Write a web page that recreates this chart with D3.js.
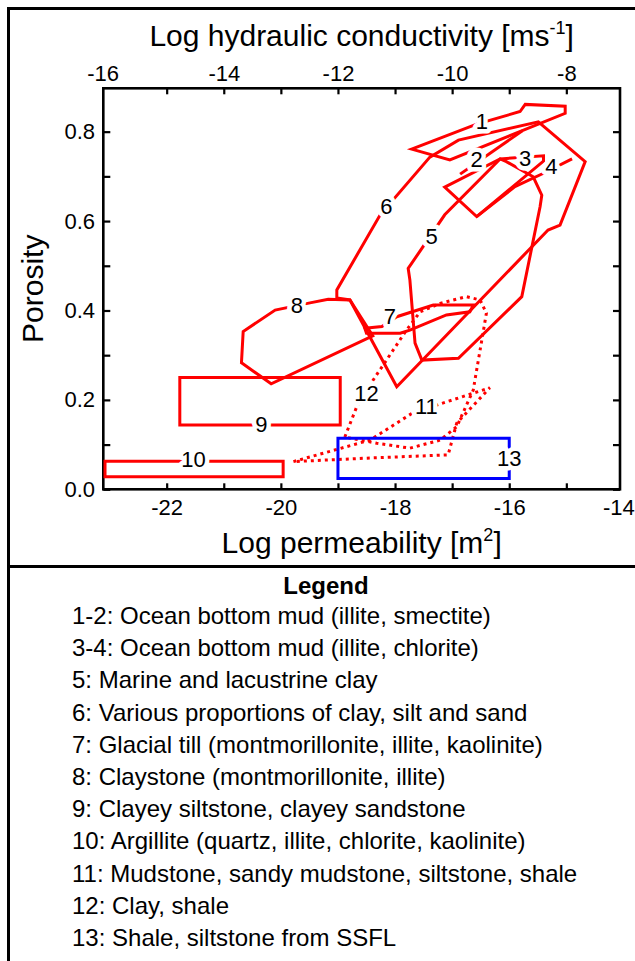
<!DOCTYPE html>
<html>
<head>
<meta charset="utf-8">
<script src="https://cdn.jsdelivr.net/npm/d3@7"></script>
<style>
  html, body { margin: 0; padding: 0; background: #fff; }
  svg { display: block; font-family: "Liberation Sans", Arial, sans-serif; }
</style>
</head>
<body>
<div id="chart"></div>
<script>
// ---------------- DATA ----------------
const xTickValues = [-22, -21, -20, -19, -18, -17, -16, -15];
const xTickLabels = [-22, -20, -18, -16, -14];
const topTickValues = [-15, -14, -13, -12, -11, -10, -9, -8];
const topTickLabels = [-16, -14, -12, -10, -8];
const yTickValues = [0, 0.1, 0.2, 0.3, 0.4, 0.5, 0.6, 0.7, 0.8];
const yTickLabels = [0, 0.2, 0.4, 0.6, 0.8];

// [log permeability, porosity]
const shape1 = [[-17.71,0.761],[-16.57,0.817],[-15.81,0.845],[-15.72,0.861],[-15.02,0.857],[-15.02,0.841],[-17.04,0.737]];
const shape2 = [[-16.86,0.705],[-15.77,0.802]];
const shape3 = [[-17.13,0.676],[-16.16,0.739],[-15.40,0.746],[-15.40,0.734],[-16.57,0.610]];
const shape4 = [[-16.57,0.610],[-15.90,0.677],[-15.40,0.707],[-14.90,0.739]];
const shape5 = [[-16.16,0.739],[-16.05,0.733],[-15.58,0.699],[-15.43,0.658],[-15.46,0.632],[-15.78,0.431],[-16.89,0.293],[-17.53,0.289],[-17.65,0.327],[-17.74,0.468],[-17.77,0.494],[-17.53,0.539],[-17.13,0.614]];
const shape6 = [[-17.97,0.2295],[-18.79,0.4235],[-19.02,0.428],[-19.02,0.446],[-18.26,0.614],[-17.39,0.743],[-16.89,0.781],[-15.49,0.822],[-14.67,0.733],[-15.11,0.591],[-15.32,0.58]];
const shape7 = [[-18.53,0.360],[-18.23,0.364],[-17.97,0.386],[-17.33,0.412],[-16.63,0.412],[-16.69,0.397],[-17.10,0.390],[-17.74,0.356],[-17.91,0.349],[-18.26,0.349],[-18.50,0.349]];
const shape8 = [[-20.17,0.236],[-20.69,0.283],[-20.66,0.353],[-20.10,0.401],[-19.49,0.417],[-19.17,0.425],[-18.79,0.4235],[-18.39,0.343]];
const shape9 = [[-21.77,0.144],[-18.96,0.144],[-18.96,0.25],[-21.77,0.25]];
const shape10 = [[-23.08,0.028],[-19.96,0.028],[-19.96,0.063],[-23.08,0.063]];
const shape11 = [[-19.78,0.062],[-18.44,0.110],[-17.69,0.171],[-16.34,0.227],[-16.92,0.148],[-17.07,0.077],[-18.44,0.070]];
const shape12 = [[-18.88,0.117],[-18.67,0.185],[-18.38,0.245],[-17.80,0.356],[-17.56,0.397],[-17.21,0.416],[-16.75,0.431],[-16.51,0.4235],[-16.40,0.394],[-16.46,0.349],[-16.60,0.245],[-16.63,0.222],[-16.92,0.140],[-17.21,0.110],[-17.74,0.092],[-18.32,0.103]];
const shape13 = [[-19,0.024],[-16,0.024],[-16,0.114],[-19,0.114]];

const shapeLabels = [
  ["1",-16.48,0.822],["2",-16.57,0.737],["3",-15.72,0.741],["4",-15.26,0.722],
  ["5",-17.36,0.565],["6",-18.15,0.632],["7",-18.09,0.386],["8",-19.72,0.412],
  ["9",-20.34,0.146],["10",-21.53,0.066],["11",-17.45,0.185],["12",-18.50,0.215],
  ["13",-16.0,0.07]
];

const legendTitle = "Legend";
const legendItems = [
  "1-2: Ocean bottom mud (illite, smectite)",
  "3-4: Ocean bottom mud (illite, chlorite)",
  "5: Marine and lacustrine clay",
  "6: Various proportions of clay, silt and sand",
  "7: Glacial till (montmorillonite, illite, kaolinite)",
  "8: Claystone (montmorillonite, illite)",
  "9: Clayey siltstone, clayey sandstone",
  "10: Argillite (quartz, illite, chlorite, kaolinite)",
  "11: Mudstone, sandy mudstone, siltstone, shale",
  "12: Clay, shale",
  "13: Shale, siltstone from SSFL"
];

// ---------------- DRAW ----------------
const W = 635, H = 961;
const svg = d3.select("#chart").append("svg").attr("width", W).attr("height", H);
svg.append("rect").attr("width", W).attr("height", H).attr("fill", "#fff");

const L = 103.3, R = 620, T = 88.3, B = 489.3;
const x = d3.scaleLinear().domain([-23.11, -14.06]).range([L, R]);
const xTop = d3.scaleLinear().domain([-16.11, -7.06]).range([L, R]);
const y = d3.scaleLinear().domain([0, 0.897]).range([B, T]);

// outer border lines
svg.append("line").attr("x1", 8.5).attr("x2", 8.5).attr("y1", 7).attr("y2", H).attr("stroke", "#000").attr("stroke-width", 3);
svg.append("line").attr("x1", 7).attr("x2", W).attr("y1", 8.5).attr("y2", 8.5).attr("stroke", "#000").attr("stroke-width", 3);
svg.append("line").attr("x1", 7).attr("x2", W).attr("y1", 566.5).attr("y2", 566.5).attr("stroke", "#000").attr("stroke-width", 3);

const tickFont = 22;
// bottom axis
const gB = svg.append("g").attr("transform", `translate(0,${B})`)
  .call(d3.axisBottom(x).tickValues(xTickValues.concat([-14])).tickSizeInner(-6).tickSizeOuter(0).tickPadding(10.5)
    .tickFormat(d => xTickLabels.includes(d) ? d3.format("d")(d).replace("−","-") : ""));
gB.select(".domain").remove();
gB.selectAll(".tick").filter(d => d === -14).select("line").remove();
gB.selectAll(".tick").filter(d => d === -14).select("text").attr("x", -5);

// top axis
const gT = svg.append("g").attr("transform", `translate(0,${T})`)
  .call(d3.axisTop(xTop).tickValues([-16].concat(topTickValues)).tickSizeInner(-6).tickSizeOuter(0).tickPadding(7.6)
    .tickFormat(d => topTickLabels.includes(d) ? d3.format("d")(d).replace("−","-") : ""));
gT.select(".domain").remove();
gT.selectAll(".tick").filter(d => d === -16).select("line").remove();
gT.selectAll(".tick").filter(d => d === -16).select("text").attr("x", -7);

// left axis
const gL = svg.append("g").attr("transform", `translate(${L},0)`)
  .call(d3.axisLeft(y).tickValues(yTickValues).tickSizeInner(-7).tickSizeOuter(0).tickPadding(8.3)
    .tickFormat(d => yTickLabels.some(v => Math.abs(v - d) < 1e-9) ? d3.format(".1f")(d) : ""));
gL.select(".domain").remove();

// right axis (ticks only)
const gR = svg.append("g").attr("transform", `translate(${R},0)`)
  .call(d3.axisRight(y).tickValues(yTickValues).tickSizeInner(-7).tickSizeOuter(0).tickFormat(""));
gR.select(".domain").remove();

svg.selectAll(".tick line").attr("stroke", "#000").attr("stroke-width", 2.2);
svg.selectAll(".tick text").attr("fill", "#000").attr("font-size", tickFont)
  .attr("font-family", "'Liberation Sans', Arial, sans-serif");

// plot frame
svg.append("rect").attr("x", L).attr("y", T).attr("width", R - L).attr("height", B - T)
  .attr("fill", "none").attr("stroke", "#000").attr("stroke-width", 2.6);

// axis titles
const titleFont = 30;
const topTitle = svg.append("text").attr("x", (L + R) / 2).attr("y", 45.7).attr("text-anchor", "middle")
  .attr("font-size", titleFont).attr("fill", "#000");
topTitle.append("tspan").text("Log hydraulic conductivity [ms");
topTitle.append("tspan").text("-1").attr("font-size", 18).attr("dy", -12);
topTitle.append("tspan").text("]").attr("dy", 12);

const botTitle = svg.append("text").attr("x", (L + R) / 2).attr("y", 552.7).attr("text-anchor", "middle")
  .attr("font-size", titleFont).attr("fill", "#000");
botTitle.append("tspan").text("Log permeability [m");
botTitle.append("tspan").text("2").attr("font-size", 18).attr("dy", -12);
botTitle.append("tspan").text("]").attr("dy", 12);

svg.append("text").attr("transform", `translate(43,${(T + B) / 2}) rotate(-90)`)
  .attr("text-anchor", "middle").attr("font-size", titleFont).attr("fill", "#000").text("Porosity");

// shapes
const line = d3.line().x(d => x(d[0])).y(d => y(d[1]));
const plot = svg.append("g");
const redSolidClosed = [shape1, shape3, shape5, shape6, shape7, shape8, shape9, shape10];
const redSolidOpen = [shape2, shape4];
const redDotted = [shape11, shape12];

plot.selectAll("path.solidc").data(redSolidClosed).join("path").attr("class", "solidc")
  .attr("d", d => line(d) + "Z").attr("fill", "none").attr("stroke", "#ff0000")
  .attr("stroke-width", 3).attr("stroke-linejoin", "miter");
plot.selectAll("path.solido").data(redSolidOpen).join("path").attr("class", "solido")
  .attr("d", d => line(d)).attr("fill", "none").attr("stroke", "#ff0000")
  .attr("stroke-width", 3).attr("stroke-linejoin", "miter");
plot.selectAll("path.dotted").data(redDotted).join("path").attr("class", "dotted")
  .attr("d", d => line(d) + "Z").attr("fill", "none").attr("stroke", "#ff0000")
  .attr("stroke-width", 3).attr("stroke-dasharray", "3 4");
plot.append("path").attr("d", line(shape13) + "Z").attr("fill", "none")
  .attr("stroke", "#0000ff").attr("stroke-width", 3);

// labels with white halo
plot.selectAll("text.lab").data(shapeLabels).join("text").attr("class", "lab")
  .attr("x", d => x(d[1])).attr("y", d => y(d[2]))
  .attr("text-anchor", "middle").attr("dominant-baseline", "central")
  .attr("font-size", 22).attr("fill", "#000")
  .attr("stroke", "#fff").attr("stroke-width", 9).attr("stroke-linejoin", "round")
  .attr("paint-order", "stroke")
  .text(d => d[0]);

// legend
svg.append("text").attr("x", 326).attr("y", 594).attr("text-anchor", "middle")
  .attr("font-size", 24).attr("font-weight", "bold").attr("fill", "#000").text(legendTitle);
svg.selectAll("text.leg").data(legendItems).join("text").attr("class", "leg")
  .attr("x", 72).attr("y", (d, i) => 624 + i * 32.2)
  .attr("font-size", 24).attr("fill", "#000").text(d => d);
</script>
</body>
</html>
